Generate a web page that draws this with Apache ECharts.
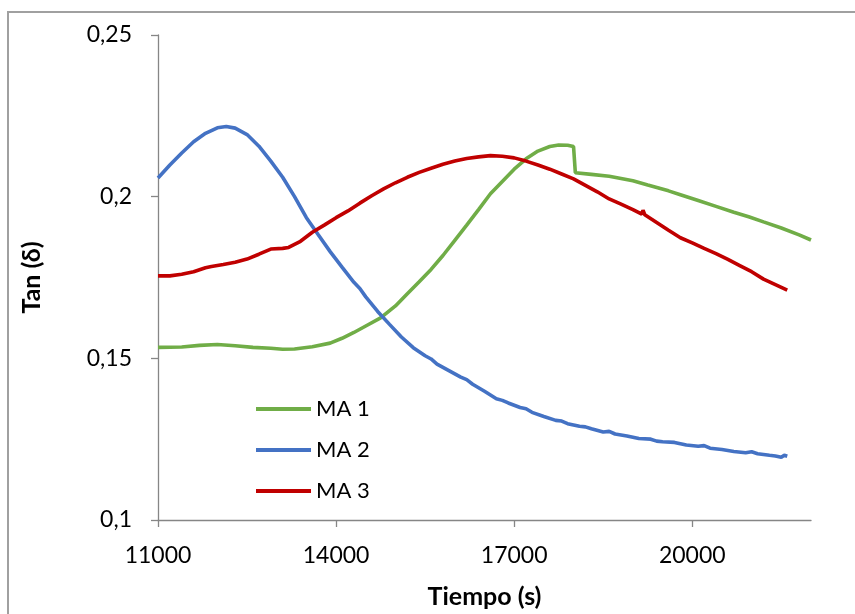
<!DOCTYPE html>
<html>
<head>
<meta charset="utf-8">
<script src="https://cdn.jsdelivr.net/npm/echarts@6/dist/echarts.min.js"></script>
<style>
  html, body { margin: 0; padding: 0; background: #fff; }
  #main { width: 855px; height: 614px; }
</style>
</head>
<body>
<div id="main"></div>
<script>
// values
const xTicks = [11000, 14000, 17000, 20000]
const yTicks = [0.1, 0.15, 0.2, 0.25]

const ma1Time = [11000, 11400, 11700, 12000, 12300, 12600, 12900, 13100, 13300, 13600, 13900, 14100, 14300, 14500, 14750, 15000, 15200, 15400, 15600, 15800, 16000, 16200, 16400, 16600, 16800, 17000, 17200, 17400, 17600, 17750, 17900, 18000, 18030, 18300, 18600, 19000, 19250, 19600, 19800, 20100, 20400, 20700, 20950, 21200, 21500, 21800, 22000]
const ma1Val = [0.1534, 0.1535, 0.1540, 0.1543, 0.1539, 0.1534, 0.1531, 0.1528, 0.1529, 0.1536, 0.1547, 0.1562, 0.1580, 0.1600, 0.1625, 0.1662, 0.1700, 0.1737, 0.1775, 0.1818, 0.1865, 0.1912, 0.1960, 0.2009, 0.2047, 0.2085, 0.2117, 0.2141, 0.2155, 0.2160, 0.2159, 0.2155, 0.2074, 0.2069, 0.2063, 0.2049, 0.2036, 0.2018, 0.2006, 0.1988, 0.1970, 0.1952, 0.1938, 0.1922, 0.1903, 0.1882, 0.1866]

const ma2Time = [11000, 11200, 11400, 11600, 11800, 12000, 12150, 12300, 12500, 12700, 12900, 13100, 13300, 13500, 13700, 13900, 14100, 14300, 14400, 14500, 14700, 14900, 15100, 15300, 15500, 15600, 15700, 15900, 16100, 16200, 16300, 16500, 16700, 16800, 16900, 17100, 17200, 17300, 17500, 17700, 17800, 17900, 18100, 18200, 18300, 18500, 18600, 18700, 18900, 19000, 19100, 19300, 19400, 19500, 19700, 19800, 19900, 20100, 20200, 20300, 20500, 20600, 20700, 20900, 21000, 21100, 21300, 21400, 21500, 21550, 21600]
const ma2Val = [0.2058, 0.2098, 0.2135, 0.2170, 0.2196, 0.2213, 0.2217, 0.2212, 0.2192, 0.2156, 0.2110, 0.2060, 0.2000, 0.1935, 0.1882, 0.1830, 0.1782, 0.1735, 0.1716, 0.1690, 0.1645, 0.1605, 0.1566, 0.1533, 0.1508, 0.1498, 0.1482, 0.1462, 0.1442, 0.1434, 0.1420, 0.1398, 0.1375, 0.1370, 0.1362, 0.1348, 0.1344, 0.1333, 0.1320, 0.1308, 0.1306, 0.1298, 0.1290, 0.1288, 0.1282, 0.1272, 0.1274, 0.1266, 0.1260, 0.1256, 0.1252, 0.1250, 0.1244, 0.1242, 0.1240, 0.1236, 0.1232, 0.1228, 0.1230, 0.1222, 0.1218, 0.1215, 0.1212, 0.1208, 0.1211, 0.1205, 0.1200, 0.1198, 0.1194, 0.1200, 0.1197]

const ma3Time = [11000, 11200, 11400, 11600, 11800, 11900, 12100, 12300, 12500, 12700, 12900, 13100, 13200, 13400, 13600, 13800, 14000, 14200, 14400, 14600, 14800, 15000, 15200, 15400, 15600, 15800, 16000, 16200, 16400, 16600, 16800, 17000, 17200, 17400, 17600, 17800, 18000, 18200, 18400, 18600, 18800, 19000, 19150, 19170, 19200, 19400, 19600, 19800, 20000, 20200, 20400, 20600, 20800, 21000, 21200, 21400, 21600]
const ma3Val = [0.1755, 0.1755, 0.1760, 0.1768, 0.1780, 0.1784, 0.1790, 0.1797, 0.1807, 0.1822, 0.1838, 0.1840, 0.1843, 0.1862, 0.1890, 0.1912, 0.1935, 0.1956, 0.1980, 0.2003, 0.2024, 0.2043, 0.2060, 0.2075, 0.2088, 0.2100, 0.2110, 0.2118, 0.2123, 0.2127, 0.2125, 0.2120, 0.2110, 0.2098, 0.2085, 0.2070, 0.2055, 0.2035, 0.2015, 0.1993, 0.1977, 0.1960, 0.1946, 0.1958, 0.1944, 0.1920, 0.1896, 0.1873, 0.1857, 0.1840, 0.1824, 0.1806, 0.1787, 0.1768, 0.1745, 0.1728, 0.1711]

const zip = (t, v) => t.map((x, i) => [x, v[i]])

const FONT = 'Lato'
const AXIS_COLOR = '#868686'

const option = {
  animation: false,
  backgroundColor: '#fff',
  textStyle: { fontFamily: FONT },
  grid: { left: 158, right: 44, top: 35, bottom: 94 },
  legend: {
    orient: 'vertical',
    left: 251,
    top: 391,
    icon: 'rect',
    itemWidth: 55,
    itemHeight: 4,
    itemGap: 15,
    textStyle: { fontSize: 22, color: '#000', fontFamily: FONT, lineHeight: 26 },
    data: ['MA 1', 'MA 2', 'MA 3']
  },
  graphic: [
    {
      type: 'rect',
      shape: { x: 8, y: 12, width: 860, height: 620 },
      style: { fill: 'none', stroke: '#a0a0a0', lineWidth: 2 },
      silent: true
    }
  ],
  xAxis: {
    type: 'value',
    min: 11000,
    max: 22000,
    name: 'Tiempo (s)',
    nameLocation: 'middle',
    nameGap: 64,
    nameTextStyle: { fontSize: 25, fontWeight: 'bold', color: '#000', fontFamily: FONT },
    axisLine: { show: true, lineStyle: { color: AXIS_COLOR, width: 1.3 } },
    axisTick: { show: true, length: 7, customValues: xTicks, lineStyle: { color: AXIS_COLOR, width: 1.3 } },
    axisLabel: {
      customValues: xTicks,
      fontSize: 23,
      color: '#000',
      margin: 24,
      fontFamily: FONT,
      formatter: (v) => String(v)
    },
    splitLine: { show: false }
  },
  yAxis: {
    type: 'value',
    min: 0.1,
    max: 0.25,
    name: 'Tan (δ)',
    nameLocation: 'middle',
    nameGap: 114,
    nameRotate: 90,
    nameTextStyle: { fontSize: 25, fontWeight: 'bold', color: '#000', fontFamily: FONT },
    axisLine: { show: true, lineStyle: { color: AXIS_COLOR, width: 1.3 } },
    axisTick: { show: true, length: 7, customValues: yTicks, lineStyle: { color: AXIS_COLOR, width: 1.3 } },
    axisLabel: {
      customValues: yTicks,
      fontSize: 23,
      color: '#000',
      margin: 26,
      fontFamily: FONT,
      formatter: (v) => String(Math.round(v * 100) / 100).replace('.', ',')
    },
    splitLine: { show: false }
  },
  series: [
    {
      name: 'MA 1',
      type: 'line',
      data: zip(ma1Time, ma1Val),
      showSymbol: false,
      color: '#70ad47',
      lineStyle: { width: 3.6, color: '#70ad47' }
    },
    {
      name: 'MA 2',
      type: 'line',
      data: zip(ma2Time, ma2Val),
      showSymbol: false,
      color: '#4472c4',
      lineStyle: { width: 3.6, color: '#4472c4' }
    },
    {
      name: 'MA 3',
      type: 'line',
      data: zip(ma3Time, ma3Val),
      showSymbol: false,
      color: '#c00000',
      lineStyle: { width: 3.6, color: '#c00000' }
    }
  ]
}

const chart = echarts.init(document.getElementById('main'))
chart.setOption(option)
</script>
</body>
</html>
